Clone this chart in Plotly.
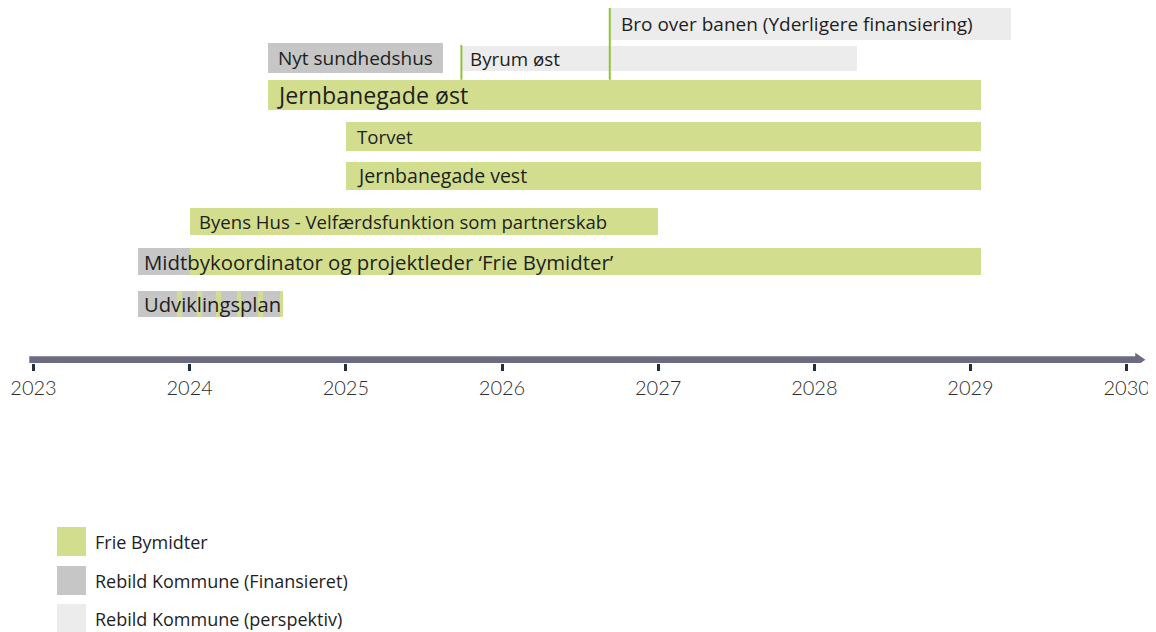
import plotly.graph_objects as go

# ---------------- data ----------------
labels = ["Bro over banen (Yderligere finansiering)", "Byrum øst", "Nyt sundhedshus",
          "Jernbanegade øst", "Torvet", "Jernbanegade vest",
          "Byens Hus - Velfærdsfunktion som partnerskab",
          "Midtbykoordinator og projektleder ‘Frie Bymidter’", "Udviklingsplan"]
label_start = [2026.69, 2025.74, 2024.50, 2024.50, 2025.00, 2025.00, 2024.00, 2023.67, 2023.67]

# bar segments: start, end, funding
seg_start = [2026.69, 2025.74, 2024.50, 2024.50, 2025.00, 2025.00, 2024.00, 2023.67, 2024.00, 2023.67]
seg_end = [2029.26, 2028.27, 2025.62, 2029.07, 2029.07, 2029.07, 2027.00, 2024.00, 2029.07, 2024.60]
seg_fund = ["perspektiv", "perspektiv", "finansieret", "frie", "frie", "frie", "frie",
            "finansieret", "frie", "finansieret"]

# green stripes inside "Udviklingsplan"
stripe_start = [2023.92, 2024.05, 2024.17, 2024.30, 2024.44, 2024.58]
stripe_end = [2023.95, 2024.08, 2024.20, 2024.33, 2024.47, 2024.60]

years = [2023, 2024, 2025, 2026, 2027, 2028, 2029, 2030]
legend_names = ["Frie Bymidter", "Rebild Kommune (Finansieret)", "Rebild Kommune (perspektiv)"]
funds = ["frie", "finansieret", "perspektiv"]

# ---------------- layout / style ----------------
# one lane per segment (lane centre / thickness in screen pixels)
seg_center = [24, 58.5, 58, 95, 136, 175.5, 221, 261.5, 261.5, 304]
seg_height = [32, 25, 30, 30.5, 29, 28, 27, 27, 27, 25.5]
label_seg = [0, 1, 2, 3, 4, 5, 6, 7, 9]
label_shift = [9, 7, 8, 7, 9, 9, 7, 4, 4]
label_size = [19, 18.8, 19, 23.2, 18.7, 19.5, 18.6, 20.4, 20.2]

colors = {"frie": "#d2de8e", "finansieret": "#c6c6c6", "perspektiv": "#ececec"}
LINE_GREEN = "#93c13a"
FONT = "Open Sans"
TEXT = "#1e1e1e"

PAGE_W, PAGE_H = 1156, 632
OFF = 8                      # page body margin
W, H = PAGE_W - OFF, PAGE_H - OFF
PX_PER_YEAR = 156.17
X2023_PX = 33.5              # page x of 2023
PLOT_BOTTOM = 363            # page y of plot bottom
plot_h = PLOT_BOTTOM - OFF
xr = [2023 - (X2023_PX - OFF) / PX_PER_YEAR, 2023 + (PAGE_W - X2023_PX) / PX_PER_YEAR]

fig = go.Figure()

for f in funds:
    idx = [i for i, s in enumerate(seg_fund) if s == f]
    fig.add_trace(go.Bar(
        orientation="h",
        y=[seg_center[i] for i in idx],
        width=[seg_height[i] for i in idx],
        base=[seg_start[i] for i in idx],
        x=[seg_end[i] - seg_start[i] for i in idx],
        marker=dict(color=colors[f], line=dict(width=0)),
        showlegend=False, hoverinfo="skip",
    ))

# stripes
fig.add_trace(go.Bar(
    orientation="h",
    y=[seg_center[9]] * len(stripe_start),
    width=[seg_height[9]] * len(stripe_start),
    base=stripe_start,
    x=[e - s for s, e in zip(stripe_start, stripe_end)],
    marker=dict(color=colors["frie"], line=dict(width=0)),
    showlegend=False, hoverinfo="skip",
))

# green marker lines at starts of the perspective projects
top_jern = seg_center[3] - seg_height[3] / 2
for r in [0, 1]:
    fig.add_trace(go.Scatter(
        x=[seg_start[r], seg_start[r]],
        y=[seg_center[r] - seg_height[r] / 2 - 1, top_jern],
        mode="lines", line=dict(color=LINE_GREEN, width=2),
        showlegend=False, hoverinfo="skip",
    ))

# labels
for i, txt in enumerate(labels):
    r = label_seg[i]
    fig.add_annotation(
        x=label_start[i], y=seg_center[r], text=txt, showarrow=False,
        xanchor="left", yanchor="middle", xshift=label_shift[i],
        font=dict(family=FONT, size=label_size[i], color=TEXT),
    )

# timeline axis line with arrow
AXIS_COL = "#6c6b82"
fig.add_shape(type="line", xref="x", yref="y",
              x0=2022.973, x1=2030.06, y0=359.7, y1=359.7,
              line=dict(color=AXIS_COL, width=7), layer="above")
fig.add_shape(type="path", xref="x", yref="y",
              path="M 2030.055 352.7 L 2030.12 359.7 L 2030.055 366.7 Z",
              fillcolor=AXIS_COL, line=dict(width=0), layer="above")

# custom legend
leg_top = [527, 566, 604]
for name, f, t in zip(legend_names, funds, leg_top):
    y0 = (PLOT_BOTTOM - (t + 29)) / plot_h
    y1 = (PLOT_BOTTOM - t) / plot_h
    fig.add_shape(type="rect", xref="paper", yref="paper",
                  x0=(57 - OFF) / W, x1=(86 - OFF) / W, y0=y0, y1=y1,
                  fillcolor=colors[f], line=dict(width=0))
    fig.add_annotation(x=(93 - OFF) / W, y=(y0 + y1) / 2, xref="paper", yref="paper",
                       text=name, showarrow=False, xanchor="left", yanchor="middle",
                       font=dict(family=FONT, size=18, color=TEXT))

fig.update_layout(
    width=W, height=H,
    margin=dict(l=0, r=0, t=0, b=H - plot_h, pad=0),
    paper_bgcolor="white", plot_bgcolor="white",
    barmode="overlay", bargap=0,
    xaxis=dict(range=xr, tickvals=years, ticktext=[str(y) for y in years],
               ticks="outside", ticklen=7, tickwidth=2.5, tickcolor="#22303d",
               showgrid=False, zeroline=False, showline=False,
               ticklabeloverflow="allow",
               tickfont=dict(family="Lato", size=20, color="#2e2e2e", weight=300),
               fixedrange=True),
    yaxis=dict(range=[PLOT_BOTTOM, OFF], visible=False, showgrid=False,
               zeroline=False, fixedrange=True),
    showlegend=False,
)

fig.write_html("out.html")
